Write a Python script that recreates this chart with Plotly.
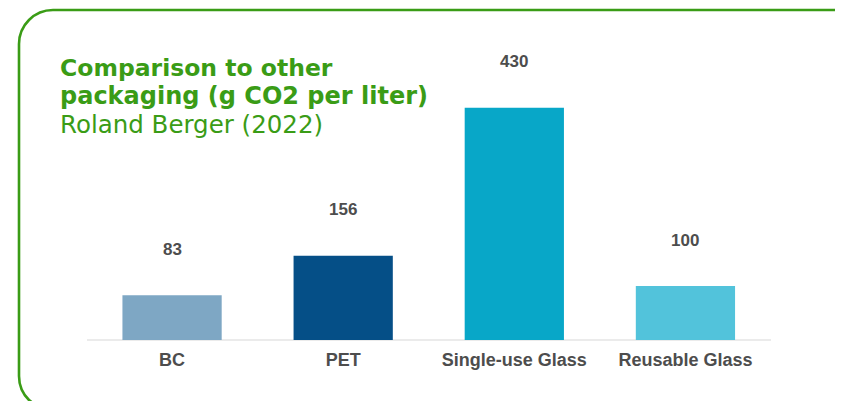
import plotly.graph_objects as go

W, H = 843, 401
OFF = 8  # the page body adds an 8px margin around the plot div

categories = ["BC", "PET", "Single-use Glass", "Reusable Glass"]
values = [83, 156, 430, 100]
bar_colors = ["#7ea7c4", "#054f87", "#08a7c8", "#52c3db"]

title_lines = ["<b>Comparison to other</b>", "<b>packaging (g CO2 per liter)</b>", "Roland Berger (2022)"]

GREEN = "#3a9c16"
LABEL_GREY = "#4d4d4d"
LABEL_FONT = "Liberation Sans, Arial, sans-serif"


def px_x(x):
    return (x - OFF) / W


def px_y(y):
    return 1 - (y - OFF) / H


def rounded_rect_path(x0, y0, x1, y1, r):
    k = 0.5523 * r
    pts = [
        ("M", [(x0, y0 + r)]),
        ("C", [(x0, y0 + r - k), (x0 + r - k, y0), (x0 + r, y0)]),
        ("L", [(x1 - r, y0)]),
        ("C", [(x1 - r + k, y0), (x1, y0 + r - k), (x1, y0 + r)]),
        ("L", [(x1, y1 - r)]),
        ("C", [(x1, y1 - r + k), (x1 - r + k, y1), (x1 - r, y1)]),
        ("L", [(x0 + r, y1)]),
        ("C", [(x0 + r - k, y1), (x0, y1 - r + k), (x0, y1 - r)]),
    ]
    parts = []
    for cmd, coords in pts:
        parts.append(cmd + " " + " ".join(f"{px_x(a):.5f},{px_y(b):.5f}" for a, b in coords))
    return " ".join(parts) + " Z"


fig = go.Figure()
fig.add_trace(
    go.Bar(
        x=categories,
        y=values,
        marker={"color": bar_colors, "line": {"width": 0}},
        width=0.58,
        hoverinfo="skip",
    )
)

# value labels floating well above the bars
for cat, val in zip(categories, values):
    fig.add_annotation(
        x=cat,
        y=val,
        text=f"<b>{val}</b>",
        showarrow=False,
        yshift=46,
        yanchor="middle",
        font={"family": LABEL_FONT, "size": 17, "color": LABEL_GREY},
    )

# title block, one line at a time to keep the tight leading
for line, cy, size in zip(title_lines, [68, 96, 125], [23.5, 24, 24.5]):
    fig.add_annotation(
        xref="paper",
        yref="paper",
        x=px_x(58),
        y=px_y(cy),
        xanchor="left",
        yanchor="middle",
        showarrow=False,
        text=line,
        font={"family": "DejaVu Sans, Verdana, sans-serif", "size": size, "color": GREEN},
    )

fig.add_shape(
    type="path",
    xref="paper",
    yref="paper",
    path=rounded_rect_path(19, 10, 868, 410, 34),
    line={"color": GREEN, "width": 2.6},
    layer="above",
)

fig.update_layout(
    width=W,
    height=H,
    margin={"l": 0, "r": 0, "t": 0, "b": 0},
    paper_bgcolor="white",
    plot_bgcolor="white",
    showlegend=False,
    xaxis={
        "domain": [px_x(86.5), px_x(771)],
        "range": [-0.5, 3.5],
        "showgrid": False,
        "zeroline": False,
        "showline": False,
        "ticks": "",
        "automargin": False,
        "tickfont": {"family": LABEL_FONT, "size": 18, "color": LABEL_GREY},
        "ticklabelstandoff": 7,
        "tickprefix": "<b>",
        "ticksuffix": "</b>",
    },
    yaxis={
        "domain": [px_y(340), px_y(40)],
        "range": [0, 300 / 0.54],
        "showgrid": False,
        "zeroline": True,
        "zerolinecolor": "#ebebeb",
        "zerolinewidth": 1.5,
        "showticklabels": False,
        "automargin": False,
    },
)

fig.write_html("out.html")
